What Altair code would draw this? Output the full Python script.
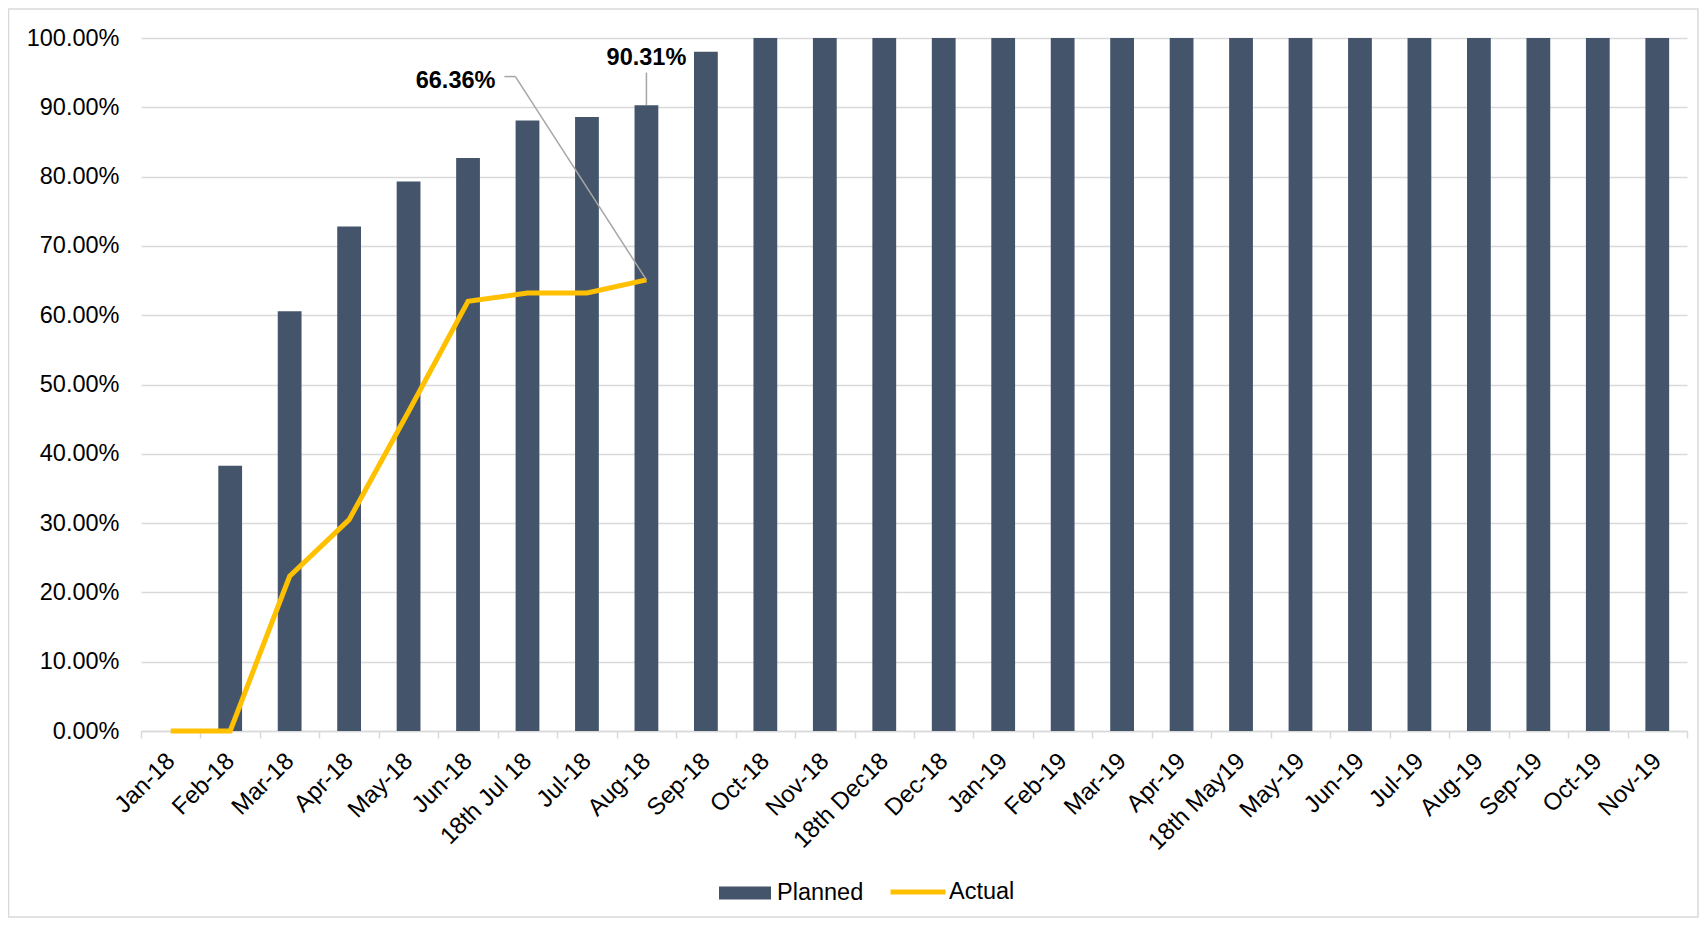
import altair as alt
import pandas as pd

FONT = "Liberation Sans"

categories = ["Jan-18", "Feb-18", "Mar-18", "Apr-18", "May-18", "Jun-18", "18th Jul 18",
              "Jul-18", "Aug-18", "Sep-18", "Oct-18", "Nov-18", "18th Dec18", "Dec-18",
              "Jan-19", "Feb-19", "Mar-19", "Apr-19", "18th May19", "May-19", "Jun-19",
              "Jul-19", "Aug-19", "Sep-19", "Oct-19", "Nov-19"]
planned = [0.0, 0.3826, 0.6056, 0.728, 0.793, 0.827, 0.881, 0.886, 0.9031, 0.980,
           1.0, 1.0, 1.0, 1.0, 1.0, 1.0, 1.0, 1.0, 1.0, 1.0, 1.0, 1.0, 1.0, 1.0, 1.0, 1.0]
actual = [0.0, 0.0, 0.2233, 0.305, 0.461, 0.620, 0.632, 0.632, 0.651, None,
          None, None, None, None, None, None, None, None, None, None, None, None, None,
          None, None, None]
planned_labels = ["", "", "", "", "", "", "", "", "90.31%", "", "", "", "", "", "", "", "",
                  "", "", "", "", "", "", "", "", ""]
actual_labels = ["", "", "", "", "", "", "", "", "66.36%", "", "", "", "", "", "", "", "",
                 "", "", "", "", "", "", "", "", ""]
series_names = ["Planned", "Actual"]

df = pd.DataFrame({
    "cat": categories,
    "planned": planned,
    "actual": actual,
    "plab": planned_labels,
    "alab": actual_labels,
})
df["ps"] = series_names[0]
df["as"] = series_names[1]

W, H = 1546, 693
STEP = W / len(categories)
BAR = "#44546A"
GOLD = "#FFC000"
GRID = "#D9D9D9"
LEAD = "#A6A6A6"

xscale = alt.Scale(domain=categories, paddingInner=0.6, paddingOuter=0.3)
yscale = alt.Scale(domain=[0, 1])

xaxis = alt.Axis(title=None, labelAngle=-45, labelAlign="right", labelBaseline="middle",
                 labelFont=FONT, labelFontSize=24, labelColor="#000000", labelPadding=19,
                 labelLimit=400, tickSize=7, tickColor=GRID, tickWidth=1.5,
                 domainColor=GRID, domainWidth=1.5, grid=False,
                 bandPosition=2.5, tickOffset=-0.3 * STEP, tickExtra=True,
                 labelOffset=0.3 * STEP)
yaxis = alt.Axis(title=None, format=".2%", values=[i / 10 for i in range(11)],
                 labelFont=FONT, labelFontSize=23.5, labelColor="#000000",
                 labelPadding=22, ticks=False, tickSize=0, domain=False,
                 grid=True, gridColor=GRID, gridWidth=1.5)

base = alt.Chart(df)

frame = alt.Chart(alt.Data(values=[{"f": 1}])).mark_rect(
    fillOpacity=0, stroke=GRID, strokeWidth=1.5
).encode(x=alt.value(-132.5), x2=alt.value(W + 11), y=alt.value(-29), y2=alt.value(H + 186))

bars = base.mark_bar().encode(
    x=alt.X("cat:N", sort=categories, scale=xscale, axis=xaxis),
    y=alt.Y("planned:Q", scale=yscale, axis=yaxis),
    color=alt.Color("ps:N", scale=alt.Scale(domain=["Planned"], range=[BAR]),
                    legend=alt.Legend(title=None, orient="none", legendX=578, legendY=829,
                                      symbolType="M-1,-0.25H1V0.25H-1Z", symbolSize=2704,
                                      symbolStrokeWidth=0, labelFont=FONT, labelFontSize=23.5,
                                      labelColor="#000000", labelOffset=6, padding=0)),
)

line = base.transform_filter("isValid(datum.actual)").mark_line(
    strokeWidth=5
).encode(
    x=alt.X("cat:N", sort=categories),
    y=alt.Y("actual:Q"),
    stroke=alt.Stroke("as:N", scale=alt.Scale(domain=["Actual"], range=[GOLD]),
                      legend=alt.Legend(title=None, orient="none", legendX=747, legendY=824,
                                        symbolType="stroke", symbolSize=3025,
                                        symbolStrokeWidth=5, labelFont=FONT,
                                        labelFontSize=23.5, labelColor="#000000",
                                        labelOffset=1, padding=0)),
)

plan_ann = base.transform_filter("datum.plab != ''")
act_ann = base.transform_filter("datum.alab != ''")

plan_lead = plan_ann.mark_rule(color=LEAD, strokeWidth=1.5, y2Offset=-32.6).encode(
    x=alt.X("cat:N", sort=categories), y="planned:Q", y2="planned:Q")
plan_text = plan_ann.mark_text(font=FONT, fontSize=23.5, fontWeight="bold", color="#000000",
                               align="center", baseline="alphabetic", dy=-40.5).encode(
    x=alt.X("cat:N", sort=categories), y="planned:Q", text="plab:N")

act_lead = act_ann.mark_rule(color=LEAD, strokeWidth=1.5, x2Offset=-131, y2Offset=-203.3).encode(
    x=alt.X("cat:N", sort=categories), y="actual:Q", x2="cat:N", y2="actual:Q")
act_stub = act_ann.mark_rule(color=LEAD, strokeWidth=1.5, xOffset=-131, x2Offset=-142,
                             yOffset=-203.3, y2Offset=-203.3).encode(
    x=alt.X("cat:N", sort=categories), y="actual:Q", x2="cat:N", y2="actual:Q")
act_text = act_ann.mark_text(font=FONT, fontSize=23.5, fontWeight="bold", color="#000000",
                             align="right", baseline="middle", dx=-151, dy=-199).encode(
    x=alt.X("cat:N", sort=categories), y="actual:Q", text="alab:N")

chart = alt.layer(frame, bars, line, plan_lead, act_lead, act_stub, plan_text, act_text).resolve_scale(
    color="independent", stroke="independent"
).properties(
    width=W, height=H, autosize="none",
    padding={"left": 133, "top": 30, "right": 12, "bottom": 187},
    background="white",
).configure_view(stroke=None)

chart.save("out.html", embed_options={"renderer": "svg", "actions": False})
